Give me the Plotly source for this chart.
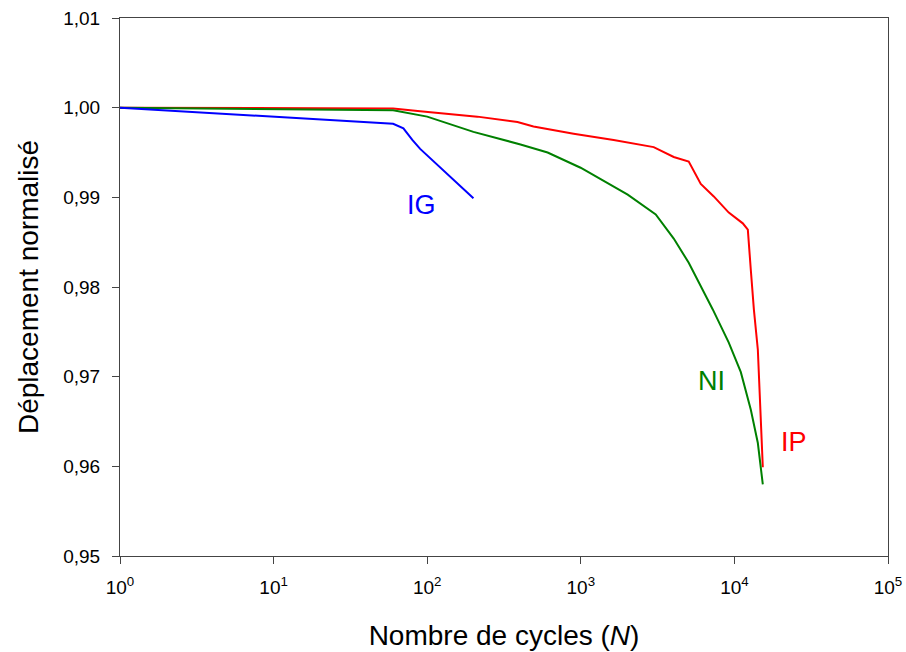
import math
import plotly.graph_objects as go

# IG series
ig_n = [1, 60, 70, 80, 90, 200]
ig_y = [1.0, 0.9982, 0.9977, 0.9964, 0.9954, 0.9899]

# IP series
ip_n = [1, 60, 90, 212, 387, 492, 898, 1636, 2983, 4027, 5043, 6040, 7340, 9190,
        11340, 12230, 12790, 13390, 14210, 14660, 15310]
ip_y = [1.0, 0.9999, 0.9996, 0.9990, 0.9984, 0.9979, 0.9971, 0.9964, 0.9956, 0.9945,
        0.9940, 0.9915, 0.9901, 0.9883, 0.9871, 0.9864, 0.9819, 0.9775, 0.9730,
        0.9674, 0.9599]

# NI series
ni_n = [1, 60, 100, 200, 405, 608, 997, 2020, 3075, 4027, 5043, 7230, 9190, 11010,
        12790, 14210, 15310]
ni_y = [1.0, 0.9997, 0.9990, 0.9973, 0.9959, 0.9950, 0.9933, 0.9903, 0.9881, 0.9854,
        0.9827, 0.9775, 0.9738, 0.9705, 0.9663, 0.9626, 0.9580]

x_tickvals = [1, 10, 100, 1000, 10000, 100000]
x_ticktext = ["10<sup>0</sup>", "10<sup>1</sup>", "10<sup>2</sup>",
              "10<sup>3</sup>", "10<sup>4</sup>", "10<sup>5</sup>"]
y_tickvals = [0.95, 0.96, 0.97, 0.98, 0.99, 1.00, 1.01]
y_ticktext = ["0,95", "0,96", "0,97", "0,98", "0,99", "1,00", "1,01"]

labels = [("IG", 92, 0.9892, "#0000FF"),
          ("NI", 7050, 0.9695, "#008000"),
          ("IP", 24600, 0.9627, "#FF0000")]

FONT = "Liberation Sans, Arial, sans-serif"

fig = go.Figure()
fig.add_trace(go.Scatter(x=ip_n, y=ip_y, mode="lines",
                         line=dict(color="#FF0000", width=2), showlegend=False))
fig.add_trace(go.Scatter(x=ni_n, y=ni_y, mode="lines",
                         line=dict(color="#008000", width=2), showlegend=False))
fig.add_trace(go.Scatter(x=ig_n, y=ig_y, mode="lines",
                         line=dict(color="#0000FF", width=2), showlegend=False))

for txt, xv, yv, col in labels:
    fig.add_annotation(x=math.log10(xv), y=yv, text=txt, showarrow=False,
                       font=dict(family=FONT, size=27, color=col),
                       xanchor="center", yanchor="middle")

fig.update_layout(
    width=906, height=652,
    margin=dict(l=120, r=18, t=18, b=96),
    paper_bgcolor="white", plot_bgcolor="white",
    font=dict(family=FONT, size=19, color="black"),
    xaxis=dict(type="log", range=[0, 5], tickmode="array", tickvals=x_tickvals,
               ticktext=x_ticktext, ticks="outside", ticklen=7, tickcolor="#444",
               tickfont=dict(family=FONT, size=19, color="black"),
               showline=True, linecolor="#444", linewidth=1, mirror=True,
               showgrid=False, zeroline=False, automargin=False,
               ticklabelstandoff=7, ticklabeloverflow="allow",
               title=dict(text="Nombre de cycles (<i>N</i>)",
                          font=dict(family=FONT, size=28), standoff=28)),
    yaxis=dict(range=[0.95, 1.01], tickmode="array", tickvals=y_tickvals,
               ticktext=y_ticktext, ticks="outside", ticklen=7, tickcolor="#444",
               tickfont=dict(family=FONT, size=19, color="black"),
               showline=True, linecolor="#444", linewidth=1, mirror=True,
               showgrid=False, zeroline=False, automargin=False,
               ticklabelstandoff=8, ticklabeloverflow="allow",
               title=dict(text="Déplacement normalisé",
                          font=dict(family=FONT, size=28), standoff=16)),
)

fig.write_html("out.html",
               config={"displayModeBar": False},
               post_script="document.body.style.margin='0';"
                           "document.body.style.overflow='hidden';")
